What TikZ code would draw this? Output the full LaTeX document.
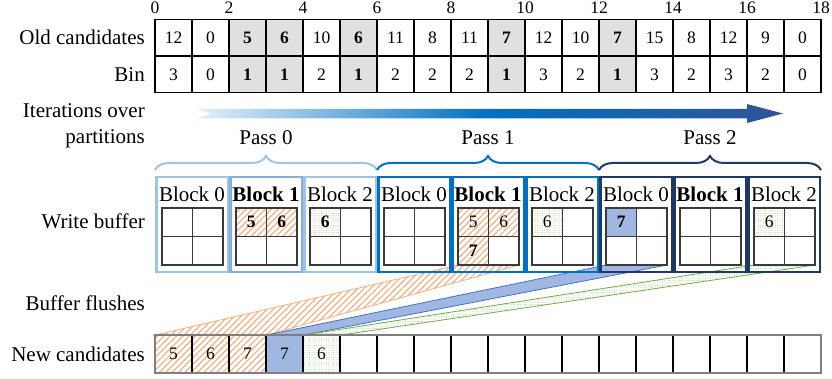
\documentclass[tikz,border=0pt]{standalone}
\usepackage{fontspec}
\setmainfont{Liberation Serif}
\usetikzlibrary{patterns.meta,decorations.pathreplacing}

\pgfdeclarelayer{bands}
\pgfsetlayers{bands,main}

% pass colours
\definecolor{passA}{HTML}{9DC3E6}
\definecolor{passAdark}{HTML}{86AEDA}
\definecolor{passB}{HTML}{0070C0}
\definecolor{passC}{HTML}{203864}
% fills
\definecolor{hatchOrange}{HTML}{F4B183}
\definecolor{edgeOrange}{HTML}{F4B183}
\definecolor{dotBlue}{HTML}{4472C4}
\definecolor{baseBlue}{HTML}{BCCDEB}
\definecolor{dotGreen}{HTML}{A9D18E}
\definecolor{edgeGreen}{HTML}{70AD47}
\definecolor{cellGray}{HTML}{E6E6E6}
\definecolor{dotGray}{HTML}{A8A8A8}
\definecolor{gridGray}{HTML}{3A3A3A}
\definecolor{borderGray}{HTML}{7F7F7F}
% arrow shading (the middle half of the 100bp strip spans the arrow)
\definecolor{arrowA}{HTML}{E6F0FA}
\definecolor{arrowB}{HTML}{0070C0}
\definecolor{arrowC}{HTML}{2F5597}
\pgfdeclarehorizontalshading{iterShade}{100bp}{color(0bp)=(arrowA); color(25bp)=(arrowA);
  color(50bp)=(arrowB); color(75bp)=(arrowC); color(100bp)=(arrowC)}

\newcommand\labfont{\fontsize{21}{26}\selectfont}
\newcommand\numfont{\fontsize{17.5}{20}\selectfont}

\begin{document}
\begin{tikzpicture}[x=1pt,y=-1pt,
  lab/.style={anchor=east, inner sep=0pt, font=\labfont, align=right},
  passlab/.style={inner sep=0pt, font=\labfont},
  idxlab/.style={inner sep=0pt, font=\numfont},
  tabcell/.style={draw=black, line width=1.1pt, minimum width=37pt, minimum height=36.7pt,
    inner sep=0pt, outer sep=0pt, font=\numfont},
  ncell/.style={draw=black, line width=1.1pt, minimum width=37pt, minimum height=37.7pt,
    inner sep=0pt, outer sep=0pt, font=\numfont},
  gcell/.style={draw=gridGray, line width=1.1pt, minimum width=30.5pt, minimum height=28.5pt,
    inner sep=0pt, outer sep=0pt, font=\numfont},
  blockbox/.style={line width=2.5pt, minimum width=71.5pt, minimum height=94.5pt,
    inner sep=0pt, outer sep=0pt},
  blocklab/.style={inner sep=0pt},
  passbrace/.style={decorate, decoration={brace, amplitude=14pt}, line width=2pt},
  % fill patterns
  grayfill/.style={preaction={fill=cellGray},
    preaction={pattern={Dots[distance=2pt,radius=0.45pt]}, pattern color=dotGray}},
  fo/.style={preaction={fill=white},
    preaction={pattern={Lines[angle=45,distance=4.5pt,line width=1.2pt]}, pattern color=hatchOrange}},
  fb/.style={preaction={fill=baseBlue},
    preaction={pattern={Dots[distance=2pt,radius=0.65pt]}, pattern color=dotBlue}},
  fg/.style={preaction={fill=white},
    preaction={pattern={Dots[distance=2.4pt,radius=0.5pt]}, pattern color=dotGreen}},
  fn/.style={},
  hl0/.style={}, hl1/.style={grayfill, font=\numfont\bfseries},
  % block border colour per pass/slot
  b00/.style={draw=passA}, b01/.style={draw=passAdark}, b02/.style={draw=passA},
  b10/.style={draw=passB}, b11/.style={draw=passB}, b12/.style={draw=passB},
  b20/.style={draw=passC}, b21/.style={draw=passC}, b22/.style={draw=passC},
  lf0/.style={font=\labfont}, lf1/.style={font=\labfont\bfseries}, lf2/.style={font=\labfont},
  bandO/.style={fo, draw=edgeOrange, line width=0.8pt},
  bandB/.style={fb, draw=dotBlue, line width=0.8pt},
  bandG/.style={fg, draw=edgeGreen, line width=0.8pt},
]
\useasboundingbox (0,0) rectangle (832,379);

% ---- row labels
\node[lab] (lOld)   at (145,37.6) {Old candidates};
\node[lab] (lBin)   at (145,74.3) {Bin};
\node[lab] (lIter)  at (145,126)  {Iterations over\\partitions};
\node[lab] (lWrite) at (145,221)  {Write buffer};
\node[lab] (lFlush) at (145,303)  {Buffer flushes};
\node[lab] (lNew)   at (145,354)  {New candidates};

% ---- index ruler
\foreach \k in {0,2,...,18}
  \node[idxlab] (ix\k) at ({155+37*\k},7.5) {\k};

% ---- old candidates and their bins
\foreach \o/\b/\h [count=\i from 0] in {12/3/0,0/0/0,5/1/1,6/1/1,10/2/0,6/1/1,11/2/0,8/2/0,11/2/0,
    7/1/1,12/3/0,10/2/0,7/1/1,15/3/0,8/2/0,12/3/0,9/2/0,0/0/0}
{
  \node[tabcell, hl\h] (old\i) at ({173.5+37*\i},37.65) {\o};
  \node[tabcell, hl\h] (bin\i) at ({173.5+37*\i},74.35) {\b};
}

% ---- iteration arrow
\shade[shading=iterShade] (195,109) -- (747,109) -- (747,104) -- (783,113.5) -- (747,123)
  -- (747,118.5) -- (195,118.5) -- (212,113.75) -- cycle;

% ---- passes
\node[passlab] (pl0) at (266,138) {Pass 0};
\node[passlab] (pl1) at (488,138) {Pass 1};
\node[passlab] (pl2) at (710,138) {Pass 2};
\draw[passbrace, draw=passA] (155,170) -- (377,170);
\draw[passbrace, draw=passB] (377,170) -- (599,170);
\draw[passbrace, draw=passC] (599,170) -- (821,170);

% ---- write buffer blocks with 2x2 slots
\foreach \k in {0,...,8}
{
  \pgfmathtruncatemacro\p{int(\k/3)}
  \pgfmathtruncatemacro\j{mod(\k,3)}
  \node[blockbox, b\p\j] (blk\k) at ({192+74*\k},224.5) {};
  \node[blocklab, lf\j] (blab\k) at ({192+74*\k},194) {Block \j};
  \node[gcell] (g\k-1) at ({177.25+74*\k},222.25) {};
  \node[gcell] (g\k-2) at ({207.75+74*\k},222.25) {};
  \node[gcell] (g\k-3) at ({177.25+74*\k},250.75) {};
  \node[gcell] (g\k-4) at ({207.75+74*\k},250.75) {};
}

% ---- buffered entries
\node[gcell, fo, font=\numfont\bfseries] (w1a) at (g1-1) {5};
\node[gcell, fo, font=\numfont\bfseries] (w1b) at (g1-2) {6};
\node[gcell, fg, font=\numfont\bfseries] (w2a) at (g2-1) {6};
\node[gcell, fo] (w4a) at (g4-1) {5};
\node[gcell, fo] (w4b) at (g4-2) {6};
\node[gcell, fo, font=\numfont\bfseries] (w4c) at (g4-3) {7};
\node[gcell, fg] (w5a) at (g5-1) {6};
\node[gcell, fb, font=\numfont\bfseries] (w6a) at (g6-1) {7};
\node[gcell, fg] (w8a) at (g8-1) {6};

% ---- new candidates
\foreach \v/\f [count=\i from 0] in {5/o,6/o,7/o,7/b,6/g,{}/n,{}/n,{}/n,{}/n,{}/n,{}/n,{}/n,
    {}/n,{}/n,{}/n,{}/n,{}/n,{}/n}
  \node[ncell, f\f] (nc\i) at ({173.5+37*\i},354) {\v};
\draw[borderGray, line width=1.8pt] (nc0.north west) rectangle (nc17.south east);

% ---- buffer flushes
\begin{pgfonlayer}{bands}
  \draw[bandO] (g4-3.south west) -- (g4-4.south east) -- (nc2.north east) -- (nc0.north west) -- cycle;
  \draw[bandB] (g6-3.south west) -- (g6-4.south east) -- (nc3.north east) -- (nc3.north west) -- cycle;
  \draw[bandG] (g8-3.south west) -- (g8-4.south east) -- (nc4.north east) -- (nc4.north west) -- cycle;
\end{pgfonlayer}
\end{tikzpicture}
\end{document}
